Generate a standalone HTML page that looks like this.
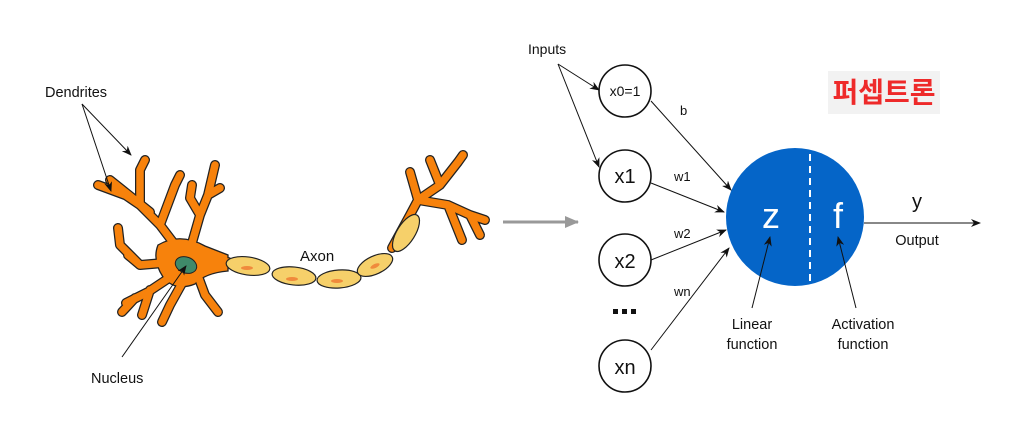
<!DOCTYPE html>
<html><head><meta charset="utf-8"><style>
html,body{margin:0;padding:0;background:#fff;}
svg{display:block;}
text{font-family:"Liberation Sans","Noto Sans CJK KR",sans-serif;fill:#111;}
</style></head><body>
<svg width="1024" height="439" viewBox="0 0 1024 439" xmlns="http://www.w3.org/2000/svg">
<defs>
<marker id="ah" markerWidth="10" markerHeight="8" refX="9" refY="4" orient="auto" markerUnits="userSpaceOnUse"><path d="M0,0 L10,4 L0,8 L3,4 z" fill="#111"/></marker>
<marker id="ag" markerWidth="14" markerHeight="12" refX="13" refY="6" orient="auto" markerUnits="userSpaceOnUse"><path d="M0,0 L14,6 L0,12 z" fill="#999"/></marker>
<g id="dend">
<path d="M185,258 L160,225 L140,205 L118,190 M140,205 L140,170 L145,160 M160,225 L175,185 L180,175 M150,212 L110,180 M125,195 L98,185"/>
<path d="M190,250 L200,215 L208,195 L215,165 M200,215 L190,198 L192,185 M208,195 L220,188"/>
<path d="M175,262 L140,265 L120,245 L118,228 M140,265 L128,255"/>
<path d="M178,272 L148,292 L126,303 M150,290 L142,315 M135,298 L122,312"/>
<path d="M185,278 L170,305 L162,322"/>
<path d="M198,276 L205,295 L218,312"/>
<path d="M200,262 L228,262"/>
<path d="M392,248 L410,215 L418,200 L410,172 M418,200 L440,185 L458,162 L463,155 M440,185 L430,160 M418,200 L448,205 L470,215 L480,235 M448,205 L462,240 M470,215 L485,220"/>
</g>
</defs>

<use href="#dend" fill="none" stroke="#222" stroke-width="10" stroke-linecap="round" stroke-linejoin="round"/>
<path d="M158,245 Q180,232 205,246 L228,255 L228,271 Q205,273 195,284 Q175,292 163,277 Q152,260 158,245 z" fill="#f7820c" stroke="#222" stroke-width="1.3"/>
<use href="#dend" fill="none" stroke="#f7820c" stroke-width="7.5" stroke-linecap="round" stroke-linejoin="round"/>
<ellipse cx="186" cy="265" rx="11" ry="8" transform="rotate(20 186 265)" fill="#3f8a6a" stroke="#222" stroke-width="1"/>
<g fill="#f6d06a" stroke="#222" stroke-width="1.2">
<ellipse cx="248" cy="266" rx="22" ry="9" transform="rotate(8 248 266)"/>
<ellipse cx="294" cy="276" rx="22" ry="9" transform="rotate(6 294 276)"/>
<ellipse cx="339" cy="279" rx="22" ry="9" transform="rotate(-4 339 279)"/>
<ellipse cx="375" cy="265" rx="19" ry="9" transform="rotate(-25 375 265)"/>
<ellipse cx="406" cy="233" rx="21" ry="9" transform="rotate(-58 406 233)"/>
</g>
<g fill="#f08a3c"><ellipse cx="247" cy="268" rx="6" ry="2"/><ellipse cx="292" cy="279" rx="6" ry="2"/><ellipse cx="337" cy="281" rx="6" ry="2"/><ellipse cx="375" cy="266" rx="5" ry="2" transform="rotate(-25 375 266)"/></g>

<text x="45" y="97" font-size="14.5">Dendrites</text>
<text x="91" y="383" font-size="14.5">Nucleus</text>
<text x="300" y="261" font-size="15">Axon</text>
<g stroke="#111" stroke-width="1" fill="none">
<line x1="82" y1="104" x2="131" y2="155" marker-end="url(#ah)"/>
<line x1="82" y1="104" x2="111" y2="191" marker-end="url(#ah)"/>
<line x1="122" y1="357" x2="186" y2="266" marker-end="url(#ah)"/>
</g>

<line x1="503" y1="222" x2="578" y2="222" stroke="#999" stroke-width="3" marker-end="url(#ag)"/>

<circle cx="795" cy="217" r="69" fill="#0565c8"/>
<line x1="810" y1="154" x2="810" y2="284" stroke="#fff" stroke-width="2" stroke-dasharray="7,5"/>
<text x="528" y="54" font-size="14">Inputs</text>
<g stroke="#111" stroke-width="1" fill="none">
<line x1="558" y1="64" x2="599" y2="90" marker-end="url(#ah)"/>
<line x1="558" y1="64" x2="599" y2="167" marker-end="url(#ah)"/>
<line x1="651" y1="101" x2="731" y2="190" marker-end="url(#ah)"/>
<line x1="651" y1="183" x2="724" y2="212" marker-end="url(#ah)"/>
<line x1="651" y1="260" x2="726" y2="230" marker-end="url(#ah)"/>
<line x1="651" y1="350" x2="729" y2="248" marker-end="url(#ah)"/>
<line x1="864" y1="223" x2="980" y2="223" marker-end="url(#ah)"/>
<line x1="752" y1="308" x2="770" y2="237" marker-end="url(#ah)"/>
<line x1="856" y1="308" x2="838" y2="237" marker-end="url(#ah)"/>
</g>
<g fill="#fff" stroke="#111" stroke-width="1.6">
<circle cx="625" cy="91" r="26"/><circle cx="625" cy="176" r="26"/>
<circle cx="625" cy="260" r="26"/><circle cx="625" cy="366" r="26"/>
</g>
<text x="625" y="96" font-size="14" text-anchor="middle">x0=1</text>
<text x="625" y="183" font-size="20" text-anchor="middle">x1</text>
<text x="625" y="268" font-size="20" text-anchor="middle">x2</text>
<text x="625" y="374" font-size="20" text-anchor="middle">xn</text>
<g fill="#111"><rect x="613" y="309" width="5" height="5"/><rect x="622" y="309" width="5" height="5"/><rect x="631" y="309" width="5" height="5"/></g>
<text x="680" y="115" font-size="13">b</text>
<text x="674" y="181" font-size="13">w1</text>
<text x="674" y="238" font-size="13">w2</text>
<text x="674" y="296" font-size="13">wn</text>

<text x="771" y="228" font-size="36" text-anchor="middle" style="fill:#fff">z</text>
<text x="838" y="228" font-size="36" text-anchor="middle" style="fill:#fff">f</text>
<text x="917" y="208" font-size="20" text-anchor="middle">y</text>
<text x="917" y="245" font-size="14.5" text-anchor="middle">Output</text>
<text x="752" y="329" font-size="14.5" text-anchor="middle">Linear</text>
<text x="752" y="349" font-size="14.5" text-anchor="middle">function</text>
<text x="863" y="329" font-size="14.5" text-anchor="middle">Activation</text>
<text x="863" y="349" font-size="14.5" text-anchor="middle">function</text>

<rect x="828" y="71" width="112" height="43" fill="#f2f2f2"/>
<text x="884" y="102" font-size="28" font-weight="bold" text-anchor="middle" style="fill:#ee2a2a">퍼셉트론</text>
</svg>
</body></html>
